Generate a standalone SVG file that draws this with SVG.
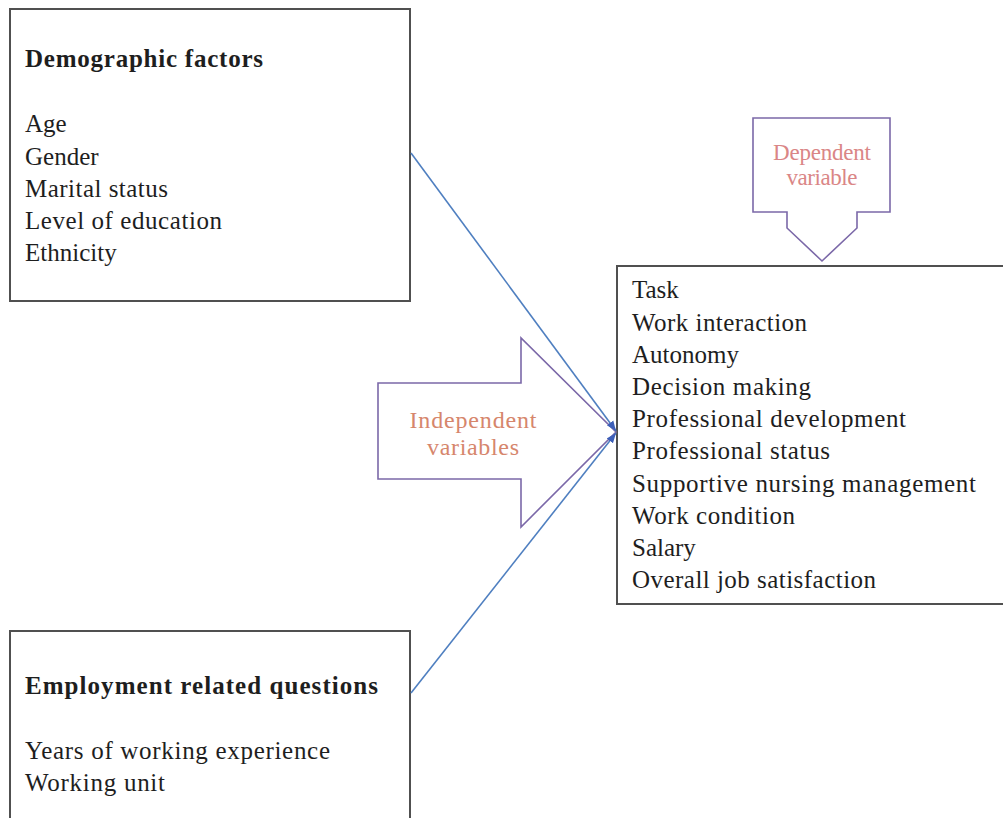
<svg xmlns="http://www.w3.org/2000/svg" width="1003" height="818" viewBox="0 0 1003 818">
<style>
.box{fill:#fff;stroke:#505050;stroke-width:2}
.callout{fill:none;stroke:#7b68a8;stroke-width:1.6}
.t{font-family:"Liberation Serif","Times New Roman",serif;font-size:25px;fill:#1e1e1e}
.b{font-weight:bold}
.ind{font-family:"Liberation Serif","Times New Roman",serif;font-size:24px;fill:#d6866c;text-anchor:middle}
.dep{font-family:"Liberation Serif","Times New Roman",serif;font-size:23px;fill:#da8686;text-anchor:middle}
.conn{stroke:#4f7fc0;stroke-width:1.6;fill:none}
</style>
<defs>
<marker id="ah" markerUnits="userSpaceOnUse" markerWidth="12" markerHeight="10" refX="10" refY="5" orient="auto">
<path d="M0,1 L10,5 L0,9 Z" fill="#3d5fb8"/>
</marker>
</defs>
<rect width="1003" height="818" fill="#fff"/>
<g id="demographic">
<rect class="box" x="10" y="9" width="400" height="292"/>
<text class="t b" x="25" y="67" textLength="238" lengthAdjust="spacing">Demographic factors</text>
<text class="t" x="25" y="132">Age</text>
<text class="t" x="25" y="164.5">Gender</text>
<text class="t" x="25" y="196.5" textLength="143" lengthAdjust="spacing">Marital status</text>
<text class="t" x="25" y="228.5" textLength="197" lengthAdjust="spacing">Level of education</text>
<text class="t" x="25" y="260.5">Ethnicity</text>
</g>
<g id="employment">
<rect class="box" x="10" y="631" width="400" height="200"/>
<text class="t b" x="25" y="694" textLength="353" lengthAdjust="spacing">Employment related questions</text>
<text class="t" x="25" y="759" textLength="305" lengthAdjust="spacing">Years of working experience</text>
<text class="t" x="25" y="791" textLength="140" lengthAdjust="spacing">Working unit</text>
</g>
<g id="outcomes">
<rect class="box" x="617" y="266" width="395" height="338"/>
<text class="t" x="632" y="298">Task</text>
<text class="t" x="632" y="330.5" textLength="175" lengthAdjust="spacing">Work interaction</text>
<text class="t" x="632" y="362.5">Autonomy</text>
<text class="t" x="632" y="394.5" textLength="179" lengthAdjust="spacing">Decision making</text>
<text class="t" x="632" y="426.5" textLength="274" lengthAdjust="spacing">Professional development</text>
<text class="t" x="632" y="459" textLength="198" lengthAdjust="spacing">Professional status</text>
<text class="t" x="632" y="491.5" textLength="344" lengthAdjust="spacing">Supportive nursing management</text>
<text class="t" x="632" y="523.5" textLength="163" lengthAdjust="spacing">Work condition</text>
<text class="t" x="632" y="556">Salary</text>
<text class="t" x="632" y="588" textLength="244" lengthAdjust="spacing">Overall job satisfaction</text>
</g>
<g id="dependent-callout">
<path class="callout" d="M753,118 H890 V212 H857 V228 L822,261 L787,228 V212 H753 Z"/>
<text class="dep" x="822" y="160" textLength="98" lengthAdjust="spacing">Dependent</text>
<text class="dep" x="822" y="185" textLength="71" lengthAdjust="spacing">variable</text>
</g>
<g id="independent-callout">
<path class="callout" d="M378,383 H521 V338 L616,432 L521,527 V479 H378 Z"/>
<text class="ind" x="473" y="428" textLength="127" lengthAdjust="spacing">Independent</text>
<text class="ind" x="473" y="455" textLength="92" lengthAdjust="spacing">variables</text>
</g>
<g id="connectors">
<line class="conn" x1="411" y1="153" x2="616" y2="431" marker-end="url(#ah)"/>
<line class="conn" x1="411" y1="693" x2="616" y2="433" marker-end="url(#ah)"/>
</g>
</svg>
